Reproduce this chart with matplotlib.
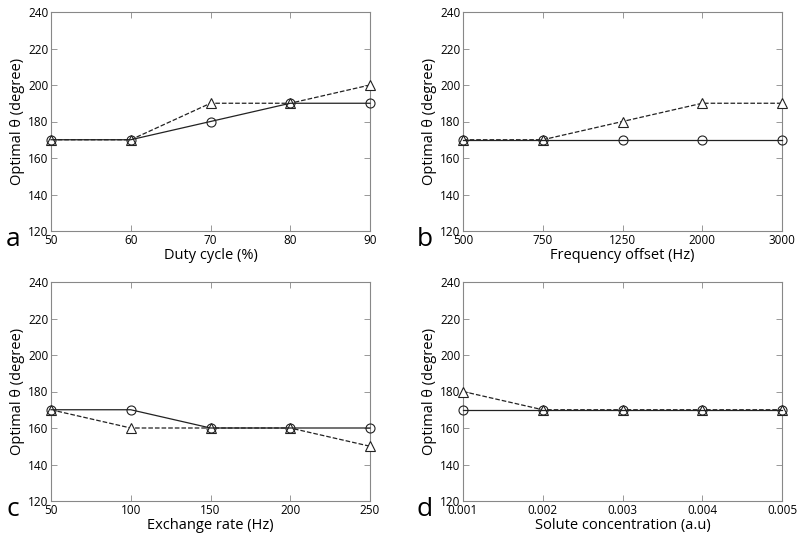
import matplotlib
matplotlib.use("Agg")
import matplotlib.pyplot as plt

plt.rcParams['font.family'] = ['Open Sans', 'DejaVu Sans']

# panel a
duty_cycle = [50, 60, 70, 80, 90]
duty_circle = [170, 170, 180, 190, 190]
duty_triangle = [170, 170, 190, 190, 200]

# panel b (categorical spacing)
freq_labels = ['500', '750', '1250', '2000', '3000']
freq_circle = [170, 170, 170, 170, 170]
freq_triangle = [170, 170, 180, 190, 190]

# panel c
exch_rate = [50, 100, 150, 200, 250]
exch_circle = [170, 170, 160, 160, 160]
exch_triangle = [170, 160, 160, 160, 150]

# panel d
solute_conc = [0.001, 0.002, 0.003, 0.004, 0.005]
solute_labels = ['0.001', '0.002', '0.003', '0.004', '0.005']
solute_circle = [170, 170, 170, 170, 170]
solute_triangle = [180, 170, 170, 170, 170]

y_ticks = [120, 140, 160, 180, 200, 220, 240]

W, H = 800, 533
fig = plt.figure(figsize=(W / 100, H / 100), dpi=100)

# axes boxes in pixels: left, top, right, bottom
boxes = [
    (51, 12, 370, 231),
    (463, 12, 782, 231),
    (51, 282, 370, 501),
    (463, 282, 782, 501),
]

panels = [
    (duty_cycle, duty_circle, duty_triangle, None, 'Duty cycle (%)', 'a'),
    (list(range(len(freq_labels))), freq_circle, freq_triangle, freq_labels,
     'Frequency offset (Hz)', 'b'),
    (exch_rate, exch_circle, exch_triangle, None, 'Exchange rate (Hz)', 'c'),
    (solute_conc, solute_circle, solute_triangle, solute_labels,
     'Solute concentration (a.u)', 'd'),
]

for (l, t, r, b), (x, yc, yt, xlabels, xlabel, letter) in zip(boxes, panels):
    ax = fig.add_axes([l / W, 1 - b / H, (r - l) / W, (b - t) / H])
    ax.plot(x, yt, '--', color='#222222', lw=0.9, marker='^', ms=6.5,
            mfc='white', mec='#222222', mew=0.8, clip_on=False, zorder=3)
    ax.plot(x, yc, '-', color='#222222', lw=0.9, marker='o', ms=6.5,
            mfc='none', mec='#222222', mew=0.8, clip_on=False, zorder=4)
    ax.set_xlim(x[0], x[-1])
    ax.set_ylim(120, 240)
    ax.set_xticks(x)
    if xlabels is not None:
        ax.set_xticklabels(xlabels)
    ax.set_yticks(y_ticks)
    ax.tick_params(direction='in', top=True, right=True, length=4,
                   width=0.6, color='#888888', labelsize=8.5, pad=2)
    for sp in ax.spines.values():
        sp.set_color('#888888')
        sp.set_linewidth(0.8)
    ax.set_xlabel(xlabel, fontsize=10.5, labelpad=1)
    ax.set_ylabel('Optimal \u03b8 (degree)', fontsize=10.5, labelpad=2)
    lx = 6 if l < 400 else 417
    fig.text(lx / W, 1 - (b + 15) / H, letter, fontsize=19,
             ha='left', va='baseline')

fig.savefig('out.png', dpi=100)
